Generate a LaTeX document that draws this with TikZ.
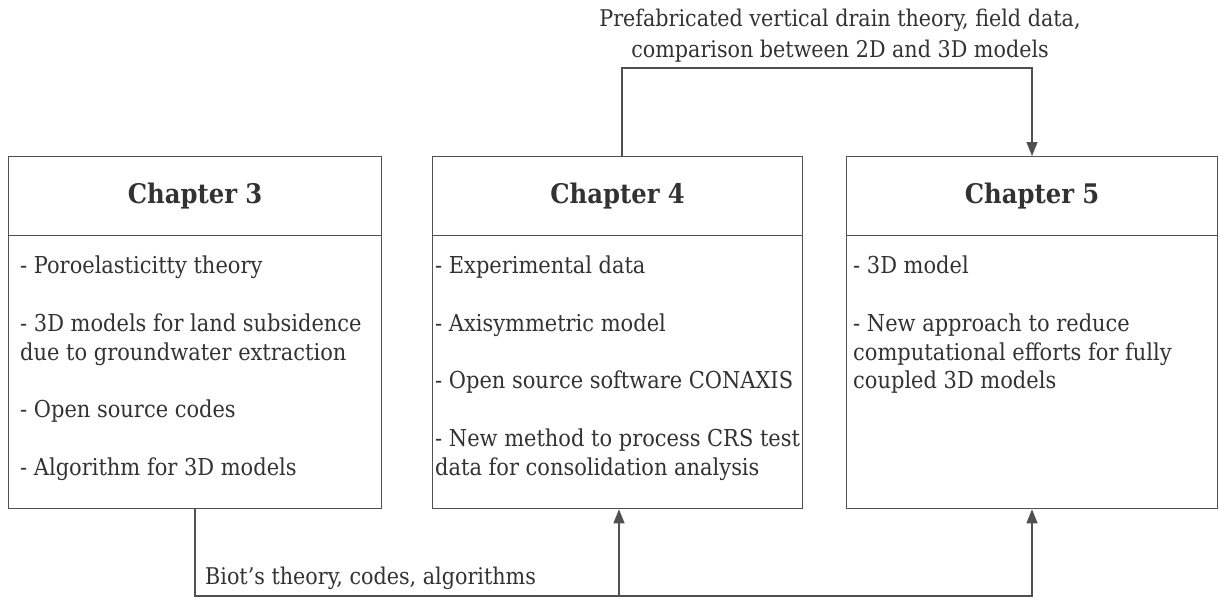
\documentclass[tikz,border=0pt]{standalone}
\usepackage{fontspec}
\setmainfont{DejaVu Serif Condensed}
\usetikzlibrary{arrows.meta}
\definecolor{linec}{RGB}{80,80,80}
\definecolor{textc}{RGB}{50,50,50}
\tikzset{
  boxpart/.style={draw=linec, line width=1.3pt, rectangle, inner sep=0pt, anchor=north west},
  hdr/.style={font=\bfseries\fontsize{27}{32}\selectfont, text=textc},
  bodytxt/.style={font=\fontsize{23.3}{28.75}\selectfont, text=textc, align=left, inner sep=0pt, anchor=north west},
  lbl/.style={font=\fontsize{23}{31}\selectfont, text=textc, inner sep=0pt},
  conn/.style={draw=linec, line width=1.3pt},
  arr/.style={conn, -{Triangle[length=14pt,width=11pt]}}
}
\begin{document}
\begin{tikzpicture}[x=1pt,y=-1pt]
\useasboundingbox (0,0) rectangle (1219,597);
% boxes
\node[boxpart, minimum width=373pt, minimum height=79pt] (h3) at (8,156) {};
\node[boxpart, minimum width=373pt, minimum height=273pt] (b3) at (8,235) {};
\node[boxpart, minimum width=370pt, minimum height=79pt] (h4) at (432,156) {};
\node[boxpart, minimum width=370pt, minimum height=273pt] (b4) at (432,235) {};
\node[boxpart, minimum width=371pt, minimum height=79pt] (h5) at (846,156) {};
\node[boxpart, minimum width=371pt, minimum height=273pt] (b5) at (846,235) {};
% titles
\node[hdr] (t3) at (h3.center) {Chapter 3};
\node[hdr] (t4) at (h4.center) {Chapter 4};
\node[hdr] (t5) at (h5.center) {Chapter 5};
% body texts
\node[bodytxt] (x3) at (20,256) {- Poroelasticitty theory\\[28.75pt]- 3D models for land subsidence\\due to groundwater extraction\\[28.75pt]- Open source codes\\[28.75pt]- Algorithm for 3D models};
\node[bodytxt] (x4) at (435,256) {- Experimental data\\[28.75pt]- Axisymmetric model\\[28.75pt]- Open source software CONAXIS\\[28.75pt]- New method to process CRS test\\data for consolidation analysis};
\node[bodytxt] (x5) at (853,256) {- 3D model\\[28.75pt]- New approach to reduce\\computational efforts for fully\\coupled 3D models};
% labels
\node[lbl, align=center, anchor=north] (top) at (840,9) {Prefabricated vertical drain theory, field data,\\comparison between 2D and 3D models};
\node[lbl, anchor=base west] (bot) at (205,584) {Biot’s theory, codes, algorithms};
% connectors
\coordinate (tl) at (622,68);
\coordinate (tr) at (1032,68);
\draw[arr] (tl |- h4.north) -- (tl) -- (tr) -- (tr |- h5.north);
\coordinate (bl) at (195,596);
\coordinate (bm) at (619,596);
\coordinate (br) at (1032,596);
\draw[arr] (bl |- b3.south) -- (bl) -- (br) -- (br |- b5.south);
\draw[arr] (bm) -- (bm |- b4.south);
\end{tikzpicture}
\end{document}
